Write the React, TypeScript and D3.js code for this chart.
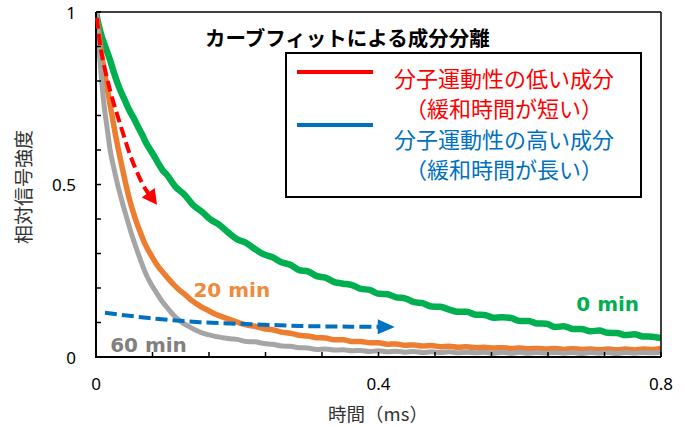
import React from "react";
import * as d3 from "d3";

// ---- data ----
const green0T = [0, 0.004, 0.008, 0.014, 0.02, 0.026, 0.032, 0.04, 0.047, 0.054, 0.06, 0.066, 0.071, 0.077, 0.083, 0.088, 0.094,
  0.1, 0.1125, 0.125, 0.1375, 0.15, 0.1625, 0.175, 0.1875, 0.2, 0.2125, 0.225, 0.2375, 0.25, 0.2625, 0.275, 0.2875, 0.3, 0.3125, 0.325, 0.3375, 0.35, 0.3625, 0.375, 0.3875,
  0.4, 0.4125, 0.425, 0.4375, 0.45, 0.4625, 0.475, 0.4875, 0.5, 0.5125, 0.525, 0.5375, 0.55, 0.5625, 0.575, 0.5875,
  0.6, 0.6125, 0.625, 0.6375, 0.65, 0.6625, 0.675, 0.6875, 0.7, 0.7125, 0.725, 0.7375, 0.75, 0.7625, 0.775, 0.7875, 0.8];
const green0V = [1.0, 0.96, 0.93, 0.895, 0.86, 0.82, 0.785, 0.748, 0.716, 0.69, 0.665, 0.642, 0.62, 0.6, 0.58, 0.562, 0.542,
  0.529, 0.4935, 0.471, 0.4405, 0.421, 0.398, 0.3825, 0.3605, 0.341, 0.331, 0.313, 0.2975, 0.289, 0.2745, 0.2675, 0.252, 0.2485, 0.2345, 0.23, 0.217, 0.2125, 0.2085, 0.1975, 0.1945,
  0.183, 0.182, 0.173, 0.17, 0.159, 0.156, 0.1465, 0.1455, 0.1375, 0.131, 0.131, 0.1225, 0.122, 0.114, 0.115, 0.113,
  0.1045, 0.1045, 0.097, 0.0965, 0.087, 0.089, 0.0815, 0.081, 0.075, 0.0765, 0.07, 0.0695, 0.0635, 0.066, 0.0595, 0.059, 0.055];

const orange20T = [0, 0.005, 0.01, 0.015, 0.02, 0.027, 0.037, 0.047, 0.055, 0.062, 0.07, 0.078, 0.087, 0.097, 0.109, 0.1175, 0.125, 0.133, 0.141, 0.149, 0.157, 0.17, 0.185,
  0.2, 0.2125, 0.225, 0.2375, 0.25, 0.2625, 0.275, 0.2875, 0.3, 0.3125, 0.325, 0.3375, 0.35, 0.3625, 0.375, 0.3875,
  0.4, 0.4125, 0.425, 0.4375, 0.45, 0.4625, 0.475, 0.4875, 0.5, 0.5125, 0.525, 0.5375, 0.55, 0.5625, 0.575, 0.5875,
  0.6, 0.6125, 0.625, 0.6375, 0.65, 0.6625, 0.675, 0.6875, 0.7, 0.7125, 0.725, 0.7375, 0.75, 0.7625, 0.775, 0.7875, 0.8];
const orange20V = [1.0, 0.92, 0.85, 0.79, 0.73, 0.65, 0.55, 0.46, 0.405, 0.365, 0.325, 0.295, 0.265, 0.24, 0.212, 0.195, 0.183, 0.168, 0.156, 0.145, 0.137, 0.123, 0.112,
  0.101, 0.093, 0.089, 0.082, 0.079, 0.072, 0.069, 0.063, 0.061, 0.056, 0.055, 0.05, 0.05, 0.045, 0.045, 0.041,
  0.041, 0.037, 0.038, 0.034, 0.035, 0.032, 0.033, 0.03, 0.031, 0.028, 0.03, 0.027, 0.028, 0.026, 0.027, 0.025,
  0.026, 0.024, 0.025, 0.023, 0.025, 0.022, 0.024, 0.022, 0.023, 0.021, 0.023, 0.021, 0.023, 0.02, 0.023, 0.022, 0.025];

const gray60T = [0, 0.004, 0.008, 0.012, 0.016, 0.02, 0.025, 0.03, 0.037, 0.044, 0.051, 0.058, 0.065, 0.072, 0.079, 0.086, 0.093, 0.1, 0.11, 0.12, 0.13, 0.14, 0.15, 0.16, 0.17, 0.18, 0.19,
  0.2, 0.2125, 0.225, 0.2375, 0.25, 0.2625, 0.275, 0.2875, 0.3, 0.3125, 0.325, 0.3375, 0.35, 0.3625, 0.375, 0.3875,
  0.4, 0.4125, 0.425, 0.4375, 0.45, 0.4625, 0.475, 0.4875, 0.5, 0.5125, 0.525, 0.5375, 0.55, 0.5625, 0.575, 0.5875,
  0.6, 0.6125, 0.625, 0.6375, 0.65, 0.6625, 0.675, 0.6875, 0.7, 0.7125, 0.725, 0.7375, 0.75, 0.7625, 0.775, 0.7875, 0.8];
const gray60V = [1.0, 0.9, 0.8, 0.72, 0.66, 0.6, 0.55, 0.505, 0.45, 0.4, 0.352, 0.31, 0.27, 0.235, 0.208, 0.185, 0.163, 0.145, 0.121, 0.103, 0.09, 0.079, 0.07, 0.064, 0.059, 0.056, 0.053,
  0.051, 0.045, 0.044, 0.039, 0.037, 0.032, 0.031, 0.027, 0.026, 0.022, 0.023, 0.02, 0.021, 0.018, 0.019, 0.016,
  0.018, 0.015, 0.017, 0.014, 0.016, 0.013, 0.015, 0.013, 0.015, 0.012, 0.014, 0.012, 0.014, 0.011, 0.014, 0.011,
  0.014, 0.011, 0.013, 0.011, 0.013, 0.011, 0.013, 0.01, 0.013, 0.011, 0.013, 0.01, 0.013, 0.011, 0.013, 0.012, 0.014];

// annotation arrows (data coordinates)
const redArrowT = [0.0014, 0.007, 0.0198, 0.035, 0.051, 0.069, 0.0864];
const redArrowV = [0.983, 0.89, 0.774, 0.67, 0.571, 0.49, 0.441];
const blueArrowT = [0.0127, 0.075, 0.147, 0.22, 0.289, 0.36, 0.423];
const blueArrowV = [0.128, 0.113, 0.101, 0.095, 0.09, 0.088, 0.087];

const xTickLabels = [0, 0.4, 0.8];
const yTickLabels = [0, 0.5, 1];

const titleText = "カーブフィットによる成分分離";
const legendRed = ["分子運動性の低い成分", "（緩和時間が短い）"];
const legendBlue = ["分子運動性の高い成分", "（緩和時間が長い）"];
const xTitle = "時間（ms）";
const yTitle = "相対信号強度";

const JP = "'Noto Sans CJK JP', 'Noto Sans', sans-serif";
const NUM = "'Noto Sans', 'DejaVu Sans', sans-serif";
const BOLDLAB = "'DejaVu Sans', sans-serif";

export default function App() {
  const W = 685, H = 427;
  const x0 = 96, x1 = 661, y0 = 357, y1 = 12;
  const x = d3.scaleLinear().domain([0, 0.8]).range([x0, x1]);
  const y = d3.scaleLinear().domain([0, 1]).range([y0, y1]);

  const mk = (T: number[], V: number[]) => T.map((t, i) => [t, V[i]] as [number, number]);
  const line = d3.line<[number, number]>().x(d => x(d[0])).y(d => y(d[1])).curve(d3.curveMonotoneX);

  const series = [
    { T: green0T, V: green0V, color: "#00B050", w: 6.5 },
    { T: orange20T, V: orange20V, color: "#ED7D31", w: 5.5 },
    { T: gray60T, V: gray60V, color: "#A5A5A5", w: 5 },
  ];

  const yTicks = d3.range(0, 1.0001, 0.1);
  const xTicks = d3.range(0, 0.8001, 0.08);

  const arrowHead = (T: number[], V: number[], len: number, half: number) => {
    const n = T.length;
    const tx = x(T[n - 1]), ty = y(V[n - 1]);
    const px = x(T[n - 2]), py = y(V[n - 2]);
    const dx = tx - px, dy = ty - py;
    const L = Math.hypot(dx, dy);
    const ux = dx / L, uy = dy / L;
    const bx = tx - ux * len, by = ty - uy * len;
    return `M${tx},${ty}L${bx - uy * half},${by + ux * half}L${bx + uy * half},${by - ux * half}Z`;
  };
  const shorten = (T: number[], V: number[], len: number) => {
    const pts = mk(T, V).map(d => [x(d[0]), y(d[1])] as [number, number]);
    const n = pts.length;
    const [tx, ty] = pts[n - 1];
    const [px, py] = pts[n - 2];
    const L = Math.hypot(tx - px, ty - py);
    pts[n - 1] = [tx - (tx - px) / L * len, ty - (ty - py) / L * len];
    return d3.line().curve(d3.curveCatmullRom)(pts) as string;
  };

  return (
    <svg width={W} height={H} style={{ position: "absolute", left: 0, top: 0, background: "#fff" }}>
      <defs>
        <clipPath id="plot">
          <rect x={x0} y={y1 - 4} width={x1 - x0} height={y0 - y1 + 4} />
        </clipPath>
      </defs>
      <rect x={0} y={0} width={W} height={H} fill="#fff" />
      <g clipPath="url(#plot)">
        {series.map((s, i) => (
          <path key={i} d={line(mk(s.T, s.V)) as string} fill="none" stroke={s.color} strokeWidth={s.w} strokeLinejoin="round" />
        ))}
      </g>
      {/* frame */}
      <line x1={x0} y1={y1} x2={x1} y2={y1} stroke="#000" strokeWidth={1.5} />
      <line x1={x1} y1={y1} x2={x1} y2={y0} stroke="#000" strokeWidth={1.5} />
      <line x1={x0} y1={y1} x2={x0} y2={y0 + 1} stroke="#000" strokeWidth={2} />
      <line x1={x0 - 1} y1={y0} x2={x1} y2={y0} stroke="#000" strokeWidth={2} />
      {yTicks.map((v, i) => (
        <line key={"yt" + i} x1={x0} x2={x0 + 5} y1={y(v)} y2={y(v)} stroke="#000" strokeWidth={1.5} />
      ))}
      {xTicks.map((t, i) => (
        <line key={"xt" + i} x1={x(t)} x2={x(t)} y1={y0} y2={y0 - 5} stroke="#000" strokeWidth={1.5} />
      ))}
      {yTickLabels.map((v, i) => (
        <text key={"yl" + i} x={x0 - 20} y={y(v)} textAnchor="end" dominantBaseline="central" fontFamily={NUM} fontSize={17} fill="#000">{v}</text>
      ))}
      {xTickLabels.map((t, i) => (
        <text key={"xl" + i} x={x(t)} y={383} textAnchor="middle" dominantBaseline="central" fontFamily={NUM} fontSize={17} fill="#000">{t}</text>
      ))}
      <text x={378} y={413} textAnchor="middle" dominantBaseline="central" fontFamily={JP} fontSize={18.5} fill="#333">{xTitle}</text>
      <text transform={`translate(22,187) rotate(-90)`} textAnchor="middle" dominantBaseline="central" fontFamily={JP} fontSize={19} fill="#333">{yTitle}</text>

      {/* arrows */}
      <path d={shorten(redArrowT, redArrowV, 10)} fill="none" stroke="#FF0000" strokeWidth={4} strokeDasharray="11 5" />
      <path d={arrowHead(redArrowT, redArrowV, 15, 8)} fill="#FF0000" />
      <path d={shorten(blueArrowT, blueArrowV, 12)} fill="none" stroke="#0070C0" strokeWidth={4} strokeDasharray="12 5" />
      <path d={arrowHead(blueArrowT, blueArrowV, 17, 7.5)} fill="#0070C0" />

      {/* series labels */}
      <text x={x(0.138)} y={y(0.195)} dominantBaseline="central" fontFamily={BOLDLAB} fontWeight="bold" fontSize={20} fill="#F08A3C">20 min</text>
      <text x={x(0.68)} y={y(0.153)} dominantBaseline="central" fontFamily={BOLDLAB} fontWeight="bold" fontSize={20} fill="#00B050">0 min</text>
      <text x={x(0.02)} y={y(0.035)} dominantBaseline="central" fontFamily={BOLDLAB} fontWeight="bold" fontSize={20} fill="#808080">60 min</text>

      {/* title */}
      <text x={205} y={37} dominantBaseline="central" fontFamily={JP} fontWeight="bold" fontSize={20.5} fill="#000">{titleText}</text>

      {/* legend */}
      <rect x={286} y={53} width={355} height={144} fill="#fff" stroke="#000" strokeWidth={2} />
      <line x1={297} x2={373} y1={72} y2={72} stroke="#FF0000" strokeWidth={4} />
      <line x1={297} x2={373} y1={125} y2={125} stroke="#0070C0" strokeWidth={4} />
      <text x={504} y={77} textAnchor="middle" dominantBaseline="central" fontFamily={JP} fontSize={22} fill="#FF0000">{legendRed[0]}</text>
      <text x={504} y={107} textAnchor="middle" dominantBaseline="central" fontFamily={JP} fontSize={22} fill="#FF0000">{legendRed[1]}</text>
      <text x={504} y={138} textAnchor="middle" dominantBaseline="central" fontFamily={JP} fontSize={22} fill="#0070C0">{legendBlue[0]}</text>
      <text x={504} y={168} textAnchor="middle" dominantBaseline="central" fontFamily={JP} fontSize={22} fill="#0070C0">{legendBlue[1]}</text>
    </svg>
  );
}
